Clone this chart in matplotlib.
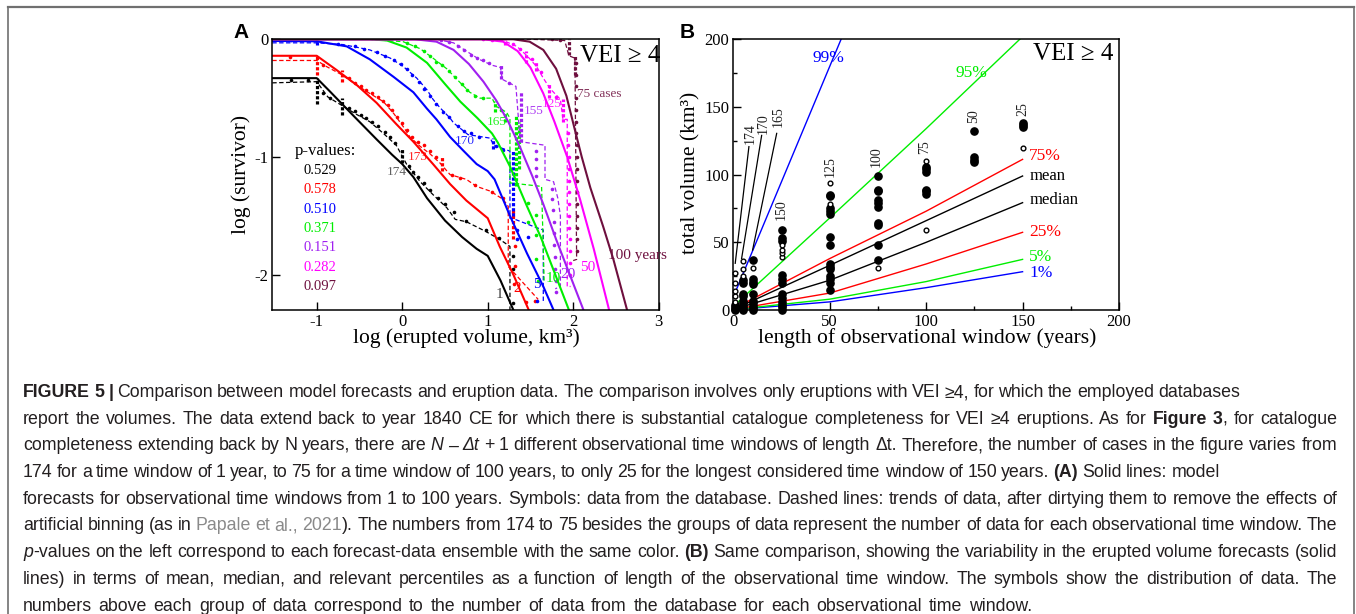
import matplotlib
matplotlib.use("Agg")
import matplotlib.pyplot as plt
from matplotlib.lines import Line2D

plt.rcParams['font.family'] = ['Liberation Serif', 'DejaVu Serif']
plt.rcParams['axes.unicode_minus'] = False

W, H = 1356, 614

# ---------- panel A data: survivor functions ----------
windows_A = [1, 2, 5, 10, 20, 50, 100]
cases_A = ["174", "173", "170", "165", "155", "125", "75 cases"]
pvalues = ["0.529", "0.578", "0.510", "0.371", "0.151", "0.282", "0.097"]
colors_A = ["#000000", "#ff0000", "#0000ff", "#00ee00", "#a020f0", "#ff00ff", "#6e0f3e"]

model_1yr = [(-1.52,-0.33),(-1.0,-0.33),(-0.85,-0.44),(-0.57,-0.65),(-0.30,-0.85),(-0.12,-0.98),(0.0,-1.06),(0.13,-1.17),(0.29,-1.35),(0.50,-1.54),(0.70,-1.68),(0.87,-1.78),(1.0,-1.84),(1.15,-2.05),(1.30,-2.30)]
model_2yr = [(-1.52,-0.14),(-1.0,-0.14),(-0.77,-0.26),(-0.53,-0.39),(-0.30,-0.54),(-0.07,-0.72),(0.13,-0.87),(0.36,-1.06),(0.56,-1.23),(0.75,-1.37),(0.90,-1.46),(1.0,-1.52),(1.14,-1.76),(1.30,-2.0),(1.48,-2.30)]
model_5yr = [(-1.52,-0.014),(-1.0,-0.017),(-0.65,-0.06),(-0.38,-0.17),(-0.10,-0.32),(0.13,-0.45),(0.29,-0.59),(0.40,-0.68),(0.56,-0.83),(0.72,-0.95),(0.87,-1.06),(1.0,-1.12),(1.08,-1.19),(1.26,-1.50),(1.46,-1.82),(1.65,-2.10),(1.77,-2.30)]
model_10yr = [(-1.52,0.0),(-0.38,0.0),(-0.18,-0.01),(0.05,-0.07),(0.29,-0.20),(0.50,-0.38),(0.68,-0.53),(0.88,-0.67),(1.05,-0.80),(1.12,-0.88),(1.26,-1.08),(1.46,-1.42),(1.62,-1.68),(1.78,-1.98),(1.95,-2.30)]
model_20yr = [(-1.52,0.0),(0.15,0.0),(0.40,-0.02),(0.60,-0.09),(0.78,-0.21),(0.95,-0.36),(1.10,-0.52),(1.24,-0.70),(1.38,-0.92),(1.52,-1.16),(1.65,-1.40),(1.80,-1.70),(1.96,-2.00),(2.12,-2.30)]
model_50yr = [(-1.52,0.0),(0.95,0.0),(1.18,-0.02),(1.35,-0.10),(1.50,-0.24),(1.65,-0.46),(1.78,-0.70),(1.93,-1.00),(2.08,-1.36),(2.24,-1.78),(2.42,-2.30)]
model_100yr = [(-1.52,0.0),(1.30,0.0),(1.49,-0.02),(1.65,-0.09),(1.80,-0.25),(1.92,-0.48),(2.03,-0.80),(2.10,-1.00),(2.20,-1.26),(2.35,-1.59),(2.47,-1.87),(2.63,-2.30)]

trend_1yr = [(-1.52,-0.37),(-1.0,-0.36),(-0.87,-0.49),(-0.71,-0.56),(-0.53,-0.64),(-0.38,-0.70),(-0.22,-0.80),(-0.07,-0.90),(0.05,-1.06),(0.21,-1.21),(0.36,-1.32),(0.52,-1.43),(0.62,-1.53),(0.75,-1.55),(0.97,-1.63),(1.14,-1.70),(1.26,-1.76),(1.26,-2.30)]
trend_2yr = [(-1.52,-0.18),(-1.0,-0.18),(-0.89,-0.23),(-0.71,-0.30),(-0.53,-0.39),(-0.38,-0.46),(-0.22,-0.53),(-0.10,-0.63),(0.01,-0.74),(0.09,-0.83),(0.21,-0.91),(0.32,-0.97),(0.44,-1.05),(0.56,-1.15),(0.75,-1.19),(0.87,-1.25),(1.03,-1.29),(1.18,-1.36),(1.24,-1.42),(1.24,-1.93),(1.59,-2.21)]
trend_5yr = [(-1.52,-0.03),(-1.0,-0.03),(-0.69,-0.045),(-0.38,-0.09),(-0.14,-0.16),(0.01,-0.23),(0.17,-0.33),(0.29,-0.43),(0.36,-0.51),(0.44,-0.58),(0.56,-0.67),(0.60,-0.71),(0.77,-0.81),(1.03,-0.84),(1.07,-0.90),(1.26,-0.95),(1.26,-1.52),(1.32,-1.53),(1.57,-1.60),(1.65,-1.62),(1.65,-2.23)]
trend_10yr = [(-1.52,0.0),(-0.40,0.0),(0.01,-0.02),(0.21,-0.08),(0.36,-0.16),(0.52,-0.25),(0.68,-0.37),(0.79,-0.45),(0.91,-0.50),(1.05,-0.50),(1.10,-0.57),(1.22,-0.62),(1.26,-0.67),(1.26,-1.22),(1.63,-1.25),(1.66,-2.05)]
trend_20yr = [(-1.52,0.0),(0.40,0.0),(0.60,-0.03),(0.75,-0.10),(0.90,-0.17),(1.05,-0.22),(1.15,-0.24),(1.17,-0.34),(1.33,-0.40),(1.38,-0.87),(1.67,-0.90),(1.67,-1.19),(1.77,-1.21),(1.82,-1.35),(1.85,-1.50),(1.85,-2.10),(1.79,-2.12)]
trend_50yr = [(-1.52,0.0),(0.90,0.0),(1.18,-0.01),(1.34,-0.06),(1.46,-0.14),(1.57,-0.23),(1.65,-0.33),(1.73,-0.42),(1.85,-0.51),(1.88,-0.68),(1.93,-0.68),(1.93,-2.10),(1.97,-2.10)]
trend_100yr = [(-1.52,0.0),(1.50,0.0),(1.90,-0.01),(1.95,-0.14),(2.02,-0.16),(2.04,-1.87),(2.00,-1.88)]

dots_1yr = [(-1.30,-0.35),(-1.10,-0.35),(-0.93,-0.46),(-0.85,-0.50),(-0.62,-0.58),(-0.55,-0.61),(-0.48,-0.64),(-0.42,-0.67),(-0.35,-0.70),(-0.28,-0.74),(-0.20,-0.79),(-0.14,-0.83),(-0.08,-0.88),(0.08,-1.08),(0.13,-1.13),(0.19,-1.17),(0.26,-1.22),(0.33,-1.28),(0.42,-1.35),(0.50,-1.40),(0.60,-1.47),(0.75,-1.54),(0.98,-1.62),(1.13,-1.69),(1.30,-1.84),(1.29,-1.95),(1.30,-2.24)]
dots_2yr = [(-1.31,-0.15),(-0.93,-0.22),(-0.62,-0.33),(-0.55,-0.37),(-0.48,-0.40),(-0.42,-0.43),(-0.35,-0.46),(-0.28,-0.49),(-0.22,-0.52),(-0.17,-0.56),(-0.12,-0.60),(-0.06,-0.66),(0.0,-0.71),(0.06,-0.77),(0.12,-0.83),(0.18,-0.87),(0.25,-0.90),(0.33,-0.95),(0.40,-1.00),(0.58,-1.15),(0.68,-1.18),(0.85,-1.24),(1.05,-1.30),(1.18,-1.35),(1.32,-1.76),(1.32,-1.93),(1.31,-2.08),(1.45,-2.23),(1.55,-2.22)]
dots_5yr = [(-1.30,-0.01),(-0.75,-0.04),(-0.55,-0.06),(-0.45,-0.08),(-0.30,-0.11),(-0.20,-0.14),(-0.10,-0.18),(-0.02,-0.21),(0.05,-0.25),(0.12,-0.30),(0.20,-0.36),(0.26,-0.42),(0.32,-0.48),(0.40,-0.55),(0.48,-0.62),(0.55,-0.66),(0.65,-0.74),(0.72,-0.78),(0.80,-0.80),(0.90,-0.83),(1.10,-0.91),(1.18,-0.94),(1.34,-1.62),(1.34,-1.70),(1.47,-1.68),(1.58,-2.22)]
dots_10yr = [(0.05,-0.03),(0.15,-0.06),(0.25,-0.10),(0.32,-0.14),(0.40,-0.19),(0.47,-0.22),(0.55,-0.27),(0.62,-0.32),(0.70,-0.38),(0.76,-0.43),(0.85,-0.48),(0.95,-0.50),(1.15,-0.60),(1.475,-1.39),(1.475,-1.55),(1.57,-1.49),(1.57,-1.66),(1.57,-1.87),(1.59,-2.05)]
dots_20yr = [(0.45,-0.01),(0.55,-0.02),(0.65,-0.06),(0.72,-0.09),(0.80,-0.13),(0.88,-0.16),(0.95,-0.18),(1.02,-0.20),(1.25,-0.37),(1.57,-0.95),(1.57,-1.02),(1.57,-1.09),(1.57,-1.16),(1.75,-1.27),(1.75,-1.36),(1.76,-1.45),(1.77,-1.55),(1.77,-1.65),(1.78,-1.75),(1.79,-1.85),(1.79,-1.95),(1.80,-2.05),(1.80,-2.15)]
dots_50yr = [(0.95,0.0),(1.05,-0.01),(1.30,-0.04),(1.38,-0.08),(1.52,-0.17),(1.62,-0.28),(1.80,-0.49),(1.94,-0.80),(1.94,-0.90),(1.95,-1.00),(1.95,-1.10),(1.95,-1.20),(1.95,-1.30),(1.95,-1.40),(1.95,-1.50),(1.95,-1.60),(1.96,-1.70),(1.96,-1.80),(1.96,-1.90),(1.96,-2.00)]
dots_100yr = [(1.75,0.0),(1.85,-0.005),(2.03,-0.2),(2.03,-0.3),(2.03,-0.4),(2.03,-0.5),(2.03,-0.6),(2.03,-0.7),(2.03,-0.8),(2.04,-0.9),(2.04,-1.0),(2.04,-1.1),(2.04,-1.2),(2.04,-1.3),(2.04,-1.4),(2.04,-1.5),(2.04,-1.6),(2.04,-1.7),(2.04,-1.8)]

# dense columns of data points: (x, y_top, y_bottom)
strips_1yr = [(-1.0,-0.33,-0.55),(-0.71,-0.50,-0.64),(0.0,-0.93,-1.05)]
strips_2yr = [(-1.0,-0.14,-0.30),(-0.71,-0.26,-0.36),(0.46,-1.00,-1.12),(1.30,-1.45,-1.70)]
strips_5yr = [(-1.0,0.0,-0.05),(1.06,-0.84,-0.93),(1.30,-0.95,-1.50)]
strips_10yr = [(1.08,-0.52,-0.62),(1.20,-0.62,-0.70),(1.33,-0.65,-1.25),(1.37,-0.70,-1.10)]
strips_20yr = [(1.15,-0.22,-0.34),(1.39,-0.44,-0.87)]
strips_50yr = [(1.20,0.0,-0.05),(1.45,-0.10,-0.20),(1.57,-0.19,-0.27),(1.72,-0.38,-0.50),(1.88,-0.51,-0.70)]
strips_100yr = [(1.95,0.0,-0.13),(2.02,-0.14,-0.30)]

models = [model_1yr, model_2yr, model_5yr, model_10yr, model_20yr, model_50yr, model_100yr]
trends = [trend_1yr, trend_2yr, trend_5yr, trend_10yr, trend_20yr, trend_50yr, trend_100yr]
dots = [dots_1yr, dots_2yr, dots_5yr, dots_10yr, dots_20yr, dots_50yr, dots_100yr]
strips = [strips_1yr, strips_2yr, strips_5yr, strips_10yr, strips_20yr, strips_50yr, strips_100yr]

# label anchors (data coords)
case_pos = [(-0.18,-1.13),(0.07,-1.0),(0.61,-0.86),(0.99,-0.70),(1.42,-0.61),(1.63,-0.55),(2.05,-0.465)]
window_labels = ["1", "2", "5", "10", "20", "50", "100 years"]
window_pos = [(1.09,-2.17),(1.30,-2.12),(1.53,-2.08),(1.68,-2.03),(1.85,-2.0),(2.08,-1.94),(2.41,-1.835)]

# ---------- panel B data ----------
t_curve = [1, 50, 100, 150]
q01 = [0.3, 6, 16.5, 28.3]
q05 = [0.4, 8, 21, 37.4]
q25 = [0.6, 12.5, 34, 57.4]
q50 = [0.8, 22, 50, 79.3]
qmean = [1.0, 33, 66, 99.0]
q75 = [1.5, 38, 73, 111.3]
q95 = [4, 68, 134, 202]
q99 = [13, 180, 350, 520]
curve_names = ["1%", "5%", "25%", "median", "mean", "75%", "95%", "99%"]
curve_colors = ["#0000ff", "#00ee00", "#ff0000", "#000000", "#000000", "#ff0000", "#00ee00", "#0000ff"]
curve_label_pos = [(153.5,27.6),(153.5,38.9),(153.5,57.4),(153.5,81.3),(153.5,99.3),(153.5,113.8),(115,175.4),(41,186)]

windows_B = [1, 5, 10, 25, 50, 75, 100, 125, 150]
counts_B = ["174", "170", "165", "150", "125", "100", "75", "50", "25"]
filled_B = [
    [0, 1, 2.5, 4],
    [0, 1.5, 3, 5, 7, 10, 12, 20, 22],
    [0, 1.5, 3, 5, 7, 12, 19, 21, 23, 37],
    [0, 2, 4, 6, 9, 12, 20, 23, 26, 51, 53, 59],
    [15, 20, 23, 25, 30, 32, 34, 48, 54, 71, 73, 75, 84, 85],
    [37, 48, 63, 64, 76, 79, 81, 88, 89, 99],
    [86, 88, 89, 102, 104, 106],
    [109, 111, 113, 132],
    [135, 137, 138],
]
hollow_B = [
    [6, 10, 14, 20, 27],
    [25, 30, 36],
    [31],
    [39, 42, 44, 48],
    [78, 94],
    [31],
    [59, 110],
    [],
    [120],
]
count_pos_B = [(8.6,130.5),(15.6,138),(23.3,142.6),(25.1,73.9),(50.1,106),(74.3,113),(99.4,120.7),(124.8,142.9),(150,148.3)]
leaders_B = [((8.1,120.7),(1.0,34.5)),((14.7,129),(4.3,38)),((22.5,130.5),(10,44.3))]

fig = plt.figure(figsize=(W/100, H/100), dpi=100)

def fx(px):
    return px / W

def fy(py):
    return 1 - py / H

# ---------- panel A ----------
axA = fig.add_axes([fx(272.3), fy(310), (658.7-272.3)/W, (310-39.3)/H])
for c, tr, dt, st in zip(colors_A, trends, dots, strips):
    axA.plot([p[0] for p in tr], [p[1] for p in tr], color=c, lw=0.9, ls=(0, (3.5, 2)))
    axA.plot([p[0] for p in dt], [p[1] for p in dt], 'o', color=c, ms=2.6, mec='none')
    axA.vlines([s[0] for s in st], [s[2] for s in st], [s[1] for s in st], color=c, lw=2.3,
               linestyles=[(0, (1.0, 0.6))])
for c, m in zip(colors_A, models):
    axA.plot([p[0] for p in m], [p[1] for p in m], color=c, lw=1.5)

axA.set_xlim(-1.52, 3)
axA.set_ylim(-2.3, 0)
axA.set_xticks([-1, 0, 1, 2, 3])
axA.set_xticklabels(["-1", "0", "1", "2", "3"])
axA.set_yticks([0, -1, -2])
axA.set_yticklabels(["0", "-1", "-2"])
axA.tick_params(direction='in', length=6, width=1, labelsize=12, pad=3)

for lab, (x, y), c in zip(cases_A, case_pos, colors_A):
    col = '#444444' if c == '#000000' else c
    axA.text(x, y, lab, color=col, fontsize=9.5, va='center', ha='left', alpha=0.85)
for lab, (x, y), c in zip(window_labels, window_pos, colors_A):
    col = '#444444' if c == '#000000' else c
    axA.text(x, y, lab, color=col, fontsize=11, va='center', ha='left', clip_on=False)

axA.text(-1.256, -0.945, "p-values:", fontsize=12, va='center', ha='left')
for i, (pv, c) in enumerate(zip(pvalues, colors_A)):
    axA.text(-1.16, -1.115 - 0.164 * i, pv, color=c, fontsize=10.5, va='center', ha='left')
axA.text(2.08, -0.146, "VEI ≥ 4", fontsize=18, va='center', ha='left')

# ---------- panel B ----------
axB = fig.add_axes([fx(733.3), fy(310), (1119-733.3)/W, (310-39.3)/H])
curves = [q01, q05, q25, q50, qmean, q75, q95, q99]
for name, q, c, (lx, ly) in zip(curve_names, curves, curve_colors, curve_label_pos):
    axB.plot(t_curve, q, color=c, lw=1.0)
    axB.text(lx, ly, name, color=c, fontsize=12.5 if '%' in name else 12, va='center', ha='left')

for t, fl, ho in zip(windows_B, filled_B, hollow_B):
    axB.plot([t] * len(fl), fl, 'o', color='k', ms=5.2, mec='k', clip_on=False, zorder=4)
    axB.plot([t] * len(ho), ho, 'o', mfc='white', mec='k', ms=3.4, mew=1.0, clip_on=False, zorder=5)

for lab, (x, y) in zip(counts_B, count_pos_B):
    axB.text(x, y, lab, rotation=90, fontsize=10, color='#222222', va='center', ha='center')
for (p0, p1) in leaders_B:
    axB.plot([p0[0], p1[0]], [p0[1], p1[1]], color='k', lw=0.9)

axB.text(155.4, 189, "VEI ≥ 4", fontsize=18, va='center', ha='left')
axB.set_xlim(0, 200)
axB.set_ylim(0, 200)
axB.set_xticks([0, 50, 100, 150, 200])
axB.set_yticks([0, 50, 100, 150, 200])
axB.set_xticks([25, 75, 125, 175], minor=True)
axB.set_yticks([25, 75, 125, 175], minor=True)
axB.tick_params(which='major', direction='in', length=6, width=1, labelsize=12, pad=3)
axB.tick_params(which='minor', direction='in', length=3, width=1)

for ax in (axA, axB):
    for sp in ax.spines.values():
        sp.set_linewidth(1.1)

# axis titles
fig.text(fx(466), fy(338), "log (erupted volume, km³)", fontsize=15.5, ha='center', va='center')
fig.text(fx(241), fy(174), "log (survivor)", fontsize=15.5, ha='center', va='center', rotation=90)
fig.text(fx(926.7), fy(338), "length of observational window (years)", fontsize=15.5, ha='center', va='center')
fig.text(fx(691), fy(173), "total volume (km³)", fontsize=15.5, ha='center', va='center', rotation=90)
fig.text(fx(241), fy(33), "A", family='Liberation Sans', weight='bold', fontsize=15, ha='center', va='center')
fig.text(fx(687), fy(32.5), "B", family='Liberation Sans', weight='bold', fontsize=15, ha='center', va='center')

# frame around the figure
frame_kw = dict(transform=fig.transFigure, color='#707070', lw=1.2)
fig.add_artist(Line2D([fx(8), fx(1353.5)], [fy(6.5), fy(6.5)], **dict(frame_kw, lw=1.6)))
fig.add_artist(Line2D([fx(8), fx(8)], [fy(6.5), 0], **frame_kw))
fig.add_artist(Line2D([fx(1353.5), fx(1353.5)], [fy(6.5), 0], **frame_kw))

# ---------- caption ----------
# each line: runs of (text, style) and the pixel x where the line ends in the original
caption = [
    ([("FIGURE 5 |", 'b'), (" Comparison between model forecasts and eruption data. The comparison involves only eruptions with VEI ≥4, for which the employed databases", 'n')], 1240),
    ([("report the volumes. The data extend back to year 1840 CE for which there is substantial catalogue completeness for VEI ≥4 eruptions. As for ", 'n'), ("Figure 3", 'b'), (", for catalogue", 'n')], 1337),
    ([("completeness extending back by N years, there are ", 'n'), ("N – Δt", 'i'), (" + 1 different observational time windows of length Δt. Therefore, the number of cases in the figure varies from", 'n')], 1337),
    ([("174 for a time window of 1 year, to 75 for a time window of 100 years, to only 25 for the longest considered time window of 150 years. ", 'n'), ("(A)", 'b'), (" Solid lines: model", 'n')], 1220),
    ([("forecasts for observational time windows from 1 to 100 years. Symbols: data from the database. Dashed lines: trends of data, after dirtying them to remove the effects of", 'n')], 1337),
    ([("artificial binning (as in ", 'n'), ("Papale et al., 2021", 'g'), ("). The numbers from 174 to 75 besides the groups of data represent the number of data for each observational time window. The", 'n')], 1337),
    ([("p", 'i'), ("-values on the left correspond to each forecast-data ensemble with the same color. ", 'n'), ("(B)", 'b'), (" Same comparison, showing the variability in the erupted volume forecasts (solid", 'n')], 1337),
    ([("lines) in terms of mean, median, and relevant percentiles as a function of length of the observational time window. The symbols show the distribution of data. The", 'n')], 1337),
    ([("numbers above each group of data correspond to the number of data from the database for each observational time window.", 'n')], 1032),
]
cap_left = 23
cap_base0, cap_step = 397, 26.7

renderer = fig.canvas.get_renderer()

def style_kw(st, size):
    kw = dict(family='Liberation Sans', fontsize=size, color='#231f20')
    if st == 'b':
        kw['weight'] = 'bold'
    if st == 'i':
        kw['style'] = 'italic'
    if st == 'g':
        kw['color'] = '#8a8a8a'
    return kw

def measure(s, st, size):
    t = fig.text(0, 0, s, **style_kw(st, size))
    w = t.get_window_extent(renderer).width
    t.remove()
    return w

def split_words(runs):
    words, cur = [], []
    for text, st in runs:
        for ch in text:
            if ch == ' ':
                if cur:
                    words.append(cur)
                    cur = []
            elif cur and cur[-1][1] == st:
                cur[-1][0] += ch
            else:
                cur.append([ch, st])
    if cur:
        words.append(cur)
    return words

def natural_width(runs, size):
    words = split_words(runs)
    sp = measure("a a", 'n', size) - measure("aa", 'n', size)
    return sum(measure(s, st, size) for w in words for s, st in w) + sp * (len(words) - 1)

cap_size = 1.02 * 10 * (1238 - cap_left) / natural_width(caption[0][0], 10)

for i, (runs, right) in enumerate(caption):
    words = split_words(runs)
    widths = [sum(measure(s, st, cap_size) for s, st in w) for w in words]
    gap = (right - cap_left - sum(widths)) / (len(words) - 1)
    x = cap_left
    y = cap_base0 + cap_step * i
    for w, ww in zip(words, widths):
        xx = x
        for s, st in w:
            fig.text(fx(xx), fy(y), s, va='baseline', ha='left', **style_kw(st, cap_size))
            xx += measure(s, st, cap_size)
        x += ww + gap

fig.savefig("out.png", dpi=100)
